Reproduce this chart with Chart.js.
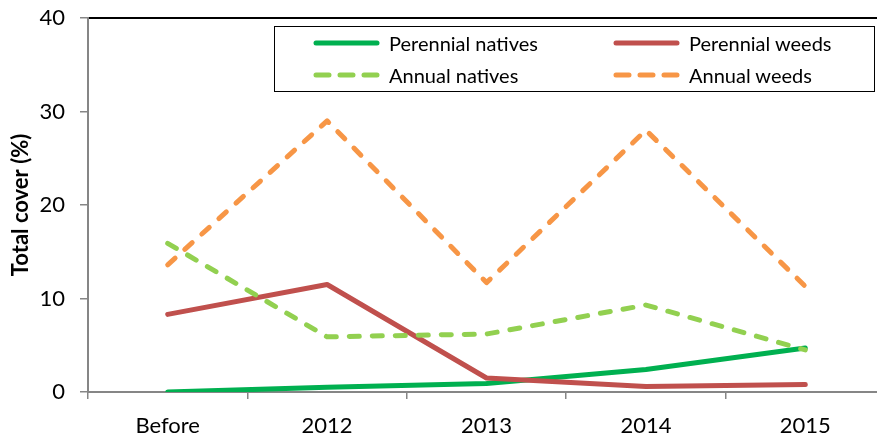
<!DOCTYPE html>
<html lang="en">
<head>
<meta charset="UTF-8"/>
<title>Total cover (%)</title>
<style>
  html, body { margin:0; padding:0; background:#fff; overflow:hidden; }
  #wrap { position:relative; width:877px; height:434px; overflow:hidden; }
  #cover { position:absolute; left:0; top:0; }
  #legend { position:absolute; left:274px; top:26px; width:601px; height:66px; border:1.5px solid #000; box-sizing:border-box; font-family:Lato, sans-serif; font-size:20px; color:#000; }
  .item { position:absolute; display:flex; align-items:center; height:20px; white-space:nowrap; }
  .item svg { margin-right:6px; }
</style>
</head>
<body>
<div id="wrap">
  <canvas id="cover" width="886" height="434"></canvas>
  <div id="legend"></div>
</div>
<script src="https://cdn.jsdelivr.net/npm/chart.js@4.4.1/dist/chart.umd.min.js"></script>
<script>
  const categories = ['Before', '2012', '2013', '2014', '2015'];
  const perennialNatives = [0, 0.5, 0.9, 2.4, 4.7];
  const perennialWeeds = [8.3, 11.5, 1.5, 0.6, 0.8];
  const annualNatives = [15.9, 5.9, 6.2, 9.3, 4.5];
  const annualWeeds = [13.6, 29.0, 11.7, 28.0, 11.3];
  const seriesNames = ['Perennial natives', 'Perennial weeds', 'Annual natives', 'Annual weeds'];
  const seriesColors = ['#00B050', '#C0504D', '#92D050', '#F79646'];
  const seriesDashed = [false, false, true, true];
  const yTitle = 'Total cover (%)';

  const seriesData = [perennialNatives, perennialWeeds, annualNatives, annualWeeds];
  const axisGrey = '#868686';
  const font = 'Lato, sans-serif';

  // legend box, two columns like the Excel one
  const legendEl = document.getElementById('legend');
  const legendPos = [[38, 6], [338, 6], [38, 38], [338, 38]];
  seriesNames.forEach((name, i) => {
    const item = document.createElement('div');
    item.className = 'item';
    item.style.left = legendPos[i][0] + 'px';
    item.style.top = legendPos[i][1] + 'px';
    const dash = seriesDashed[i] ? ' stroke-dasharray="13 11"' : '';
    item.innerHTML = `<svg width="70" height="10"><line x1="3" y1="5" x2="64" y2="5" stroke="${seriesColors[i]}" stroke-width="5" stroke-linecap="round"${dash}/></svg><span>${name}</span>`;
    legendEl.appendChild(item);
  });

  new Chart(document.getElementById('cover'), {
    type: 'line',
    data: {
      labels: categories,
      datasets: seriesData.map((d, i) => ({
        label: seriesNames[i],
        data: d,
        borderColor: seriesColors[i],
        backgroundColor: seriesColors[i],
        borderWidth: 5,
        borderDash: seriesDashed[i] ? [10, 13] : [],
        borderCapStyle: 'round',
        borderJoinStyle: 'round',
        pointRadius: 0,
        tension: 0,
        order: 4 - i
      }))
    },
    options: {
      responsive: false,
      animation: false,
      devicePixelRatio: 1,
      layout: { padding: { top: 18, right: 1, left: 0, bottom: 0 } },
      plugins: { legend: { display: false }, tooltip: { enabled: false } },
      scales: {
        x: {
          type: 'category',
          offset: true,
          afterFit: s => { s.height = 42; s.paddingLeft = 0; s.paddingRight = 0; },
          grid: { offset: true, drawOnChartArea: false, tickLength: 7, color: axisGrey, lineWidth: 1.5 },
          border: { color: axisGrey, width: 2 },
          ticks: { color: '#000', font: { family: font, size: 22 }, padding: 14, maxRotation: 0 }
        },
        xTop: {
          type: 'category',
          position: 'top',
          afterFit: s => { s.height = 0; s.paddingLeft = 0; s.paddingRight = 0; },
          grid: { drawOnChartArea: false, drawTicks: false },
          border: { color: '#000', width: 2 },
          ticks: { display: false }
        },
        y: {
          min: 0,
          max: 40,
          afterFit: s => { s.width = 88; s.paddingTop = 0; s.paddingBottom = 0; },
          grid: { drawOnChartArea: false, tickLength: 8, color: axisGrey, lineWidth: 1.5 },
          border: { color: axisGrey, width: 2 },
          ticks: { stepSize: 10, color: '#000', font: { family: font, size: 22 }, padding: 15 },
          title: { display: true, text: yTitle, color: '#000', font: { family: font, size: 22, weight: 'bold' }, padding: { top: 8, bottom: 0 } }
        }
      }
    }
  });
</script>
</body>
</html>
